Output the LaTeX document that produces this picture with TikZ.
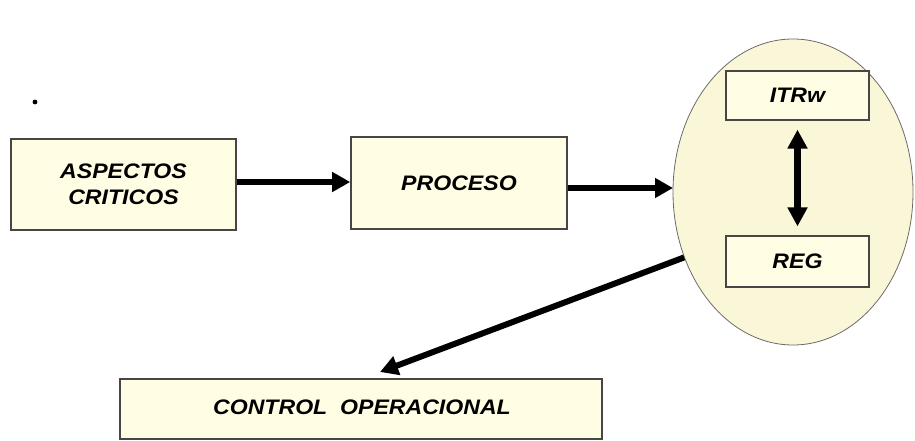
\documentclass[tikz,border=0pt]{standalone}
\usepackage{fontspec}
\setmainfont{Liberation Sans}[FakeStretch=1.1]
\usetikzlibrary{arrows.meta,shapes.geometric}
\definecolor{boxfill}{HTML}{FFFEE4}
\definecolor{ellfill}{HTML}{FAF6D8}
\definecolor{edgegray}{HTML}{4A4444}
\tikzset{
  stagebox/.style={draw=edgegray, line width=1.6pt, fill=boxfill, inner sep=0pt},
  innerbox/.style={draw=edgegray, line width=1.2pt, fill=boxfill, inner sep=0pt},
  caption/.style={font=\fontsize{21}{26}\selectfont\bfseries\itshape, align=center},
  flow/.style={line width=6pt, -{Triangle[length=18pt,width=19pt]}},
  both/.style={line width=7pt, {Triangle[length=19pt,width=19pt]}-{Triangle[length=19pt,width=19pt]}}
}
\begin{document}
\begin{tikzpicture}[x=1pt,y=-1pt]
  \useasboundingbox (0,0) rectangle (915,441);
  \clip (0,0) rectangle (915,441);
  % stray dot
  \fill (35,102) circle (2.4pt);
  % main stages
  \node[stagebox, minimum width=225pt, minimum height=91pt] (asp) at (123.5,184.5) {};
  \node[caption] (asptxt) at (asp.center) {ASPECTOS\\CRITICOS};
  \node[stagebox, minimum width=216pt, minimum height=92pt] (proc) at (459,183) {};
  \node[caption] (proctxt) at (proc.center) {PROCESO};
  % ellipse holding ITRw and REG
  \node[ellipse, draw=edgegray!80, line width=0.8pt, fill=ellfill, inner sep=0pt,
        minimum width=240pt, minimum height=306pt] (ell) at (793,192) {};
  \node[innerbox, minimum width=143pt, minimum height=49pt] (itr) at (797.5,95.5) {};
  \node[caption] (itrtxt) at (itr.center) {ITRw};
  \node[innerbox, minimum width=143pt, minimum height=51pt] (reg) at (797.5,261.5) {};
  \node[caption] (regtxt) at (reg.center) {REG};
  % control box at the bottom
  \node[stagebox, minimum width=482pt, minimum height=60pt] (ctrl) at (361,409) {};
  \node[caption] (ctrltxt) at (362,407) {CONTROL\ \ OPERACIONAL};
  \coordinate (ctrltop) at (380,372);
  % connectors
  \draw[flow] (asp.east |- 0,182) -- (proc.west |- 0,182);
  \draw[flow] (proc.east |- 0,188) -- (673,188);
  \draw[both, shorten <=9pt, shorten >=9pt] (itr.south) -- (reg.north);
  \draw[flow] (ell.211) -- (ctrltop);
\end{tikzpicture}
\end{document}
